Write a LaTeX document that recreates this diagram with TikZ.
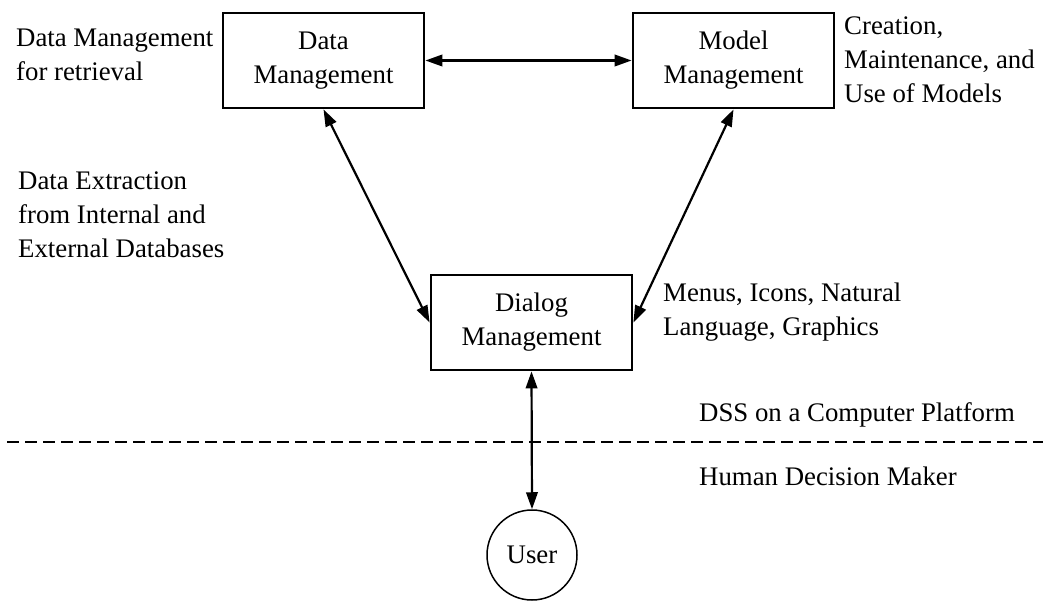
\documentclass[tikz,border=0pt]{standalone}
\usepackage{fontspec}
\setmainfont{Liberation Serif}
\usetikzlibrary{arrows.meta}
\begin{document}
\begin{tikzpicture}[x=1pt,y=-1pt,
  every node/.style={font=\fontsize{26.8}{34}\selectfont},
  modbox/.style={draw,line width=2.8pt,minimum width=201pt,minimum height=95pt,align=center,inner sep=0pt},
  userc/.style={draw,circle,line width=1.5pt,minimum size=90pt,inner sep=0pt},
  % a multi-line note is anchored at the baseline of its last line
  note/.style={anchor=base west,align=left,inner sep=0pt},
  link/.style={line width=2.2pt,{Triangle[length=17pt,width=11.5pt]}-{Triangle[length=17pt,width=11.5pt]}},
  divider/.style={line width=1.9pt,dash pattern=on 12pt off 6pt}]
\useasboundingbox (0,0) rectangle (1043,601);

% components of the DSS
\node[modbox] (dm)  at (323.5,60.5)  {Data\\Management};
\node[modbox] (mm)  at (733.5,60.5)  {Model\\Management};
\node[modbox] (dlg) at (531.5,322.5) {Dialog\\Management};
\node[userc]  (usr) at (532,555)     {User};

% links between components
\draw[link] (dm.east) -- (mm.west);
\draw[link] (dm.south) -- (dlg.west);
\draw[link] (mm.south) -- (dlg.east);
\draw[link] (dlg.south) -- (usr.north);

% boundary between the computer platform and the human side
\coordinate (divL) at (7,442);
\coordinate (divR) at (1043,442);
\draw[divider] (divL) -- (divR);

% annotations
\node[note] (n1) at (16,81)   {Data Management\\for retrieval};
\node[note] (n2) at (18,258)  {Data Extraction\\from Internal and\\External Databases};
\node[note] (n3) at (844,103) {Creation,\\Maintenance, and\\Use of Models};
\node[note] (n4) at (663,335) {Menus, Icons, Natural\\Language, Graphics};
\node[note] (n5) at (699,421) {DSS on a Computer Platform};
\node[note] (n6) at (699,485) {Human Decision Maker};
\end{tikzpicture}
\end{document}
